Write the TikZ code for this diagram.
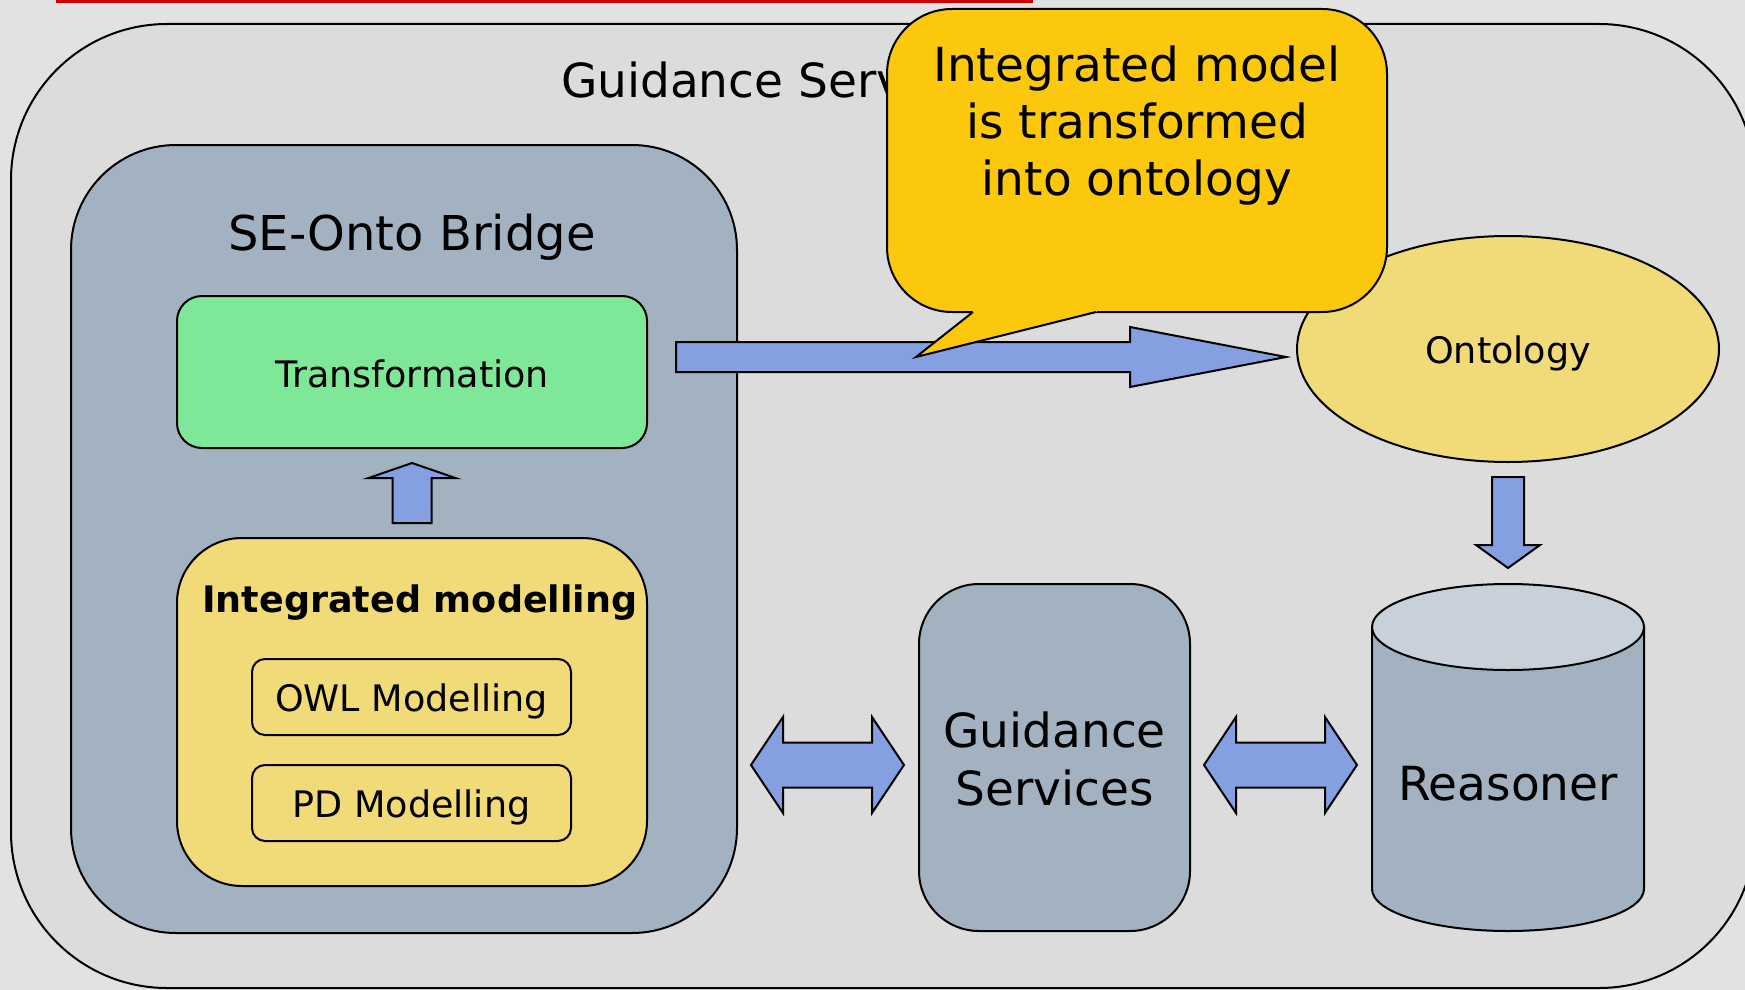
\documentclass[tikz,border=0pt]{standalone}
\usepackage{fontspec}
\setmainfont{DejaVu Sans}
\usetikzlibrary{calc,shapes.geometric}

\definecolor{pagebg}{RGB}{226,226,226}
\definecolor{panelbg}{RGB}{220,220,220}
\definecolor{slate}{RGB}{163,178,193}
\definecolor{slatelight}{RGB}{200,208,218}
\definecolor{mint}{RGB}{127,232,152}
\definecolor{sand}{RGB}{240,219,120}
\definecolor{gold}{RGB}{252,200,14}
\definecolor{flow}{RGB}{133,160,224}
\definecolor{rulered}{RGB}{204,0,0}

\newcommand\fsz[2]{\fontsize{#1}{#2}\selectfont}

% block arrow pointing right: tail, tip, shaft half-width, head half-width, head length
\newcommand\arrowR[5]{%
  \draw[flowarrow] ($(#1)+(0,{-(#3)})$) -- ($(#2)+({-(#5)},{-(#3)})$) -- ($(#2)+({-(#5)},{-(#4)})$)
    -- (#2) -- ($(#2)+({-(#5)},{#4})$) -- ($(#2)+({-(#5)},{#3})$) -- ($(#1)+(0,{#3})$) -- cycle;}
% vertical block arrow: tail, tip, shaft half-width, head half-width, signed head length
\newcommand\arrowV[5]{%
  \draw[flowarrow] ($(#1)+({-(#3)},0)$) -- ($(#2)+({-(#3)},{-(#5)})$) -- ($(#2)+({-(#4)},{-(#5)})$)
    -- (#2) -- ($(#2)+({#4},{-(#5)})$) -- ($(#2)+({#3},{-(#5)})$) -- ($(#1)+({#3},0)$) -- cycle;}
% horizontal double-headed block arrow: left tip, right tip, shaft half, head half, head length
\newcommand\arrowLR[5]{%
  \draw[flowarrow] (#1) -- ($(#1)+({#5},{-(#4)})$) -- ($(#1)+({#5},{-(#3)})$)
    -- ($(#2)+({-(#5)},{-(#3)})$) -- ($(#2)+({-(#5)},{-(#4)})$) -- (#2)
    -- ($(#2)+({-(#5)},{#4})$) -- ($(#2)+({-(#5)},{#3})$)
    -- ($(#1)+({#5},{#3})$) -- ($(#1)+({#5},{#4})$) -- cycle;}

\begin{document}
\begin{tikzpicture}[x=1pt,y=-1pt,line width=2pt,
  box/.style={draw=black, line width=2pt, inner sep=0pt, outer sep=0pt},
  flowarrow/.style={draw=black, line width=2pt, fill=flow},
  txt/.style={inner sep=0pt, outer sep=0pt, text=black}]

\useasboundingbox (0,0) rectangle (1745,990);
\begin{scope}
\clip (0,0) rectangle (1745,990);
\fill[pagebg] (0,0) rectangle (1745,990);
\fill[rulered] (56,0) rectangle (1033,3);

% outer service panel
\draw[fill=panelbg, rounded corners=156pt] (11,24) rectangle (1755,988);
\node[txt, anchor=base west, font=\fsz{47}{57}] (paneltitle) at (561,97) {Guidance Services};

% SE-Onto Bridge container
\node[box, fill=slate, rounded corners=105pt, minimum width=666pt, minimum height=788pt] (bridge) at (404,539) {};
\node[txt, anchor=base, font=\fsz{48}{58}] (bridgetitle) at (412,250) {SE-Onto Bridge};

\node[box, fill=mint, rounded corners=25pt, minimum width=470pt, minimum height=152pt] (trans) at (412,372) {};
\node[txt, anchor=base, font=\fsz{36.5}{44}] (translabel) at (412,387) {Transformation};

\node[box, fill=sand, rounded corners=65pt, minimum width=470pt, minimum height=348pt] (im) at (412,712) {};
\node[txt, anchor=base, font=\fsz{36.5}{44}\bfseries] (imlabel) at (420,612) {Integrated modelling};

\node[box, fill=sand, rounded corners=13pt, minimum width=319pt, minimum height=76pt] (owl) at (411.5,697) {};
\node[txt, anchor=base, font=\fsz{36.5}{44}] (owllabel) at (411.5,711) {OWL Modelling};
\node[box, fill=sand, rounded corners=13pt, minimum width=319pt, minimum height=76pt] (pd) at (411.5,803) {};
\node[txt, anchor=base, font=\fsz{36.5}{44}] (pdlabel) at (411.5,817) {PD Modelling};

% integrated modelling -> transformation
\coordinate (imT) at (412,523);
\coordinate (transB) at (412,463);
\arrowV{imT}{transB}{19.5}{43.5}{-15}

% ontology
\node[box, ellipse, fill=sand, minimum width=422pt, minimum height=226pt] (onto) at (1508,349) {};
\node[txt, anchor=base, font=\fsz{36.5}{44}] (ontolabel) at (1508,363) {Ontology};

% transformation -> ontology
\coordinate (transE) at (676,357);
\coordinate (ontoW) at (1286,357);
\arrowR{transE}{ontoW}{15}{30}{156}

% guidance services box
\node[box, fill=slate, rounded corners=60pt, minimum width=271pt, minimum height=347pt] (gs) at (1054.5,757.5) {};
\node[txt, anchor=north, align=center, font=\fsz{47}{58}] (gslabel) at (1054.5,711.5) {Guidance\\Services};

% reasoner cylinder
\draw[fill=slate] (1372,627) -- (1372,889) arc[start angle=180, end angle=0, x radius=136, y radius=42]
  -- (1644,627) -- cycle;
\draw[fill=slatelight] (1508,627) ellipse [x radius=136, y radius=43];
\node[txt, anchor=base, font=\fsz{47}{57}] (reasoner) at (1508,800) {Reasoner};

% ontology -> reasoner
\coordinate (ontoS) at (1508,477);
\coordinate (reasN) at (1508,568);
\arrowV{ontoS}{reasN}{16}{32}{23}

% bridge <-> guidance services <-> reasoner
\coordinate (bridgeE) at (751,765);
\coordinate (gsW) at (904,765);
\arrowLR{bridgeE}{gsW}{22.5}{48}{32}
\coordinate (gsE) at (1204,765);
\coordinate (reasW) at (1357,765);
\arrowLR{gsE}{reasW}{22.5}{48}{32}

% speech callout
\node[box, fill=gold, rounded corners=65pt, minimum width=500pt, minimum height=303pt] (callout) at (1137,160.5) {};
\coordinate (ptrA) at (973,312);
\coordinate (ptrTip) at (916,357);
\coordinate (ptrB) at (1096,312);
\fill[gold] ($(ptrA)+(-2,-2)$) -- ($(ptrB)+(2,-2)$) -- (ptrB) -- (ptrTip) -- (ptrA) -- cycle;
\draw[line join=miter] (ptrA) -- (ptrTip) -- (ptrB);
\node[txt, anchor=north, align=center, font=\fsz{47}{57}] (calloutlabel) at (1137,45.5)
  {Integrated model\\is transformed\\into ontology};
\end{scope}
\end{tikzpicture}
\end{document}
